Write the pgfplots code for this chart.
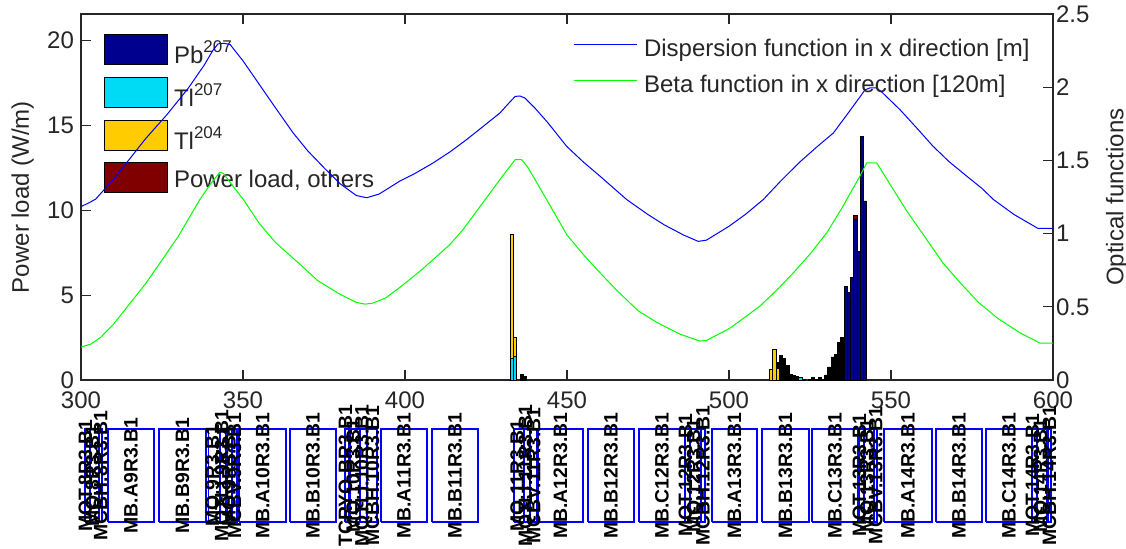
\documentclass[border=0pt]{standalone}
\usepackage{pgfplots}
\pgfplotsset{compat=1.18}
\usepackage{fontspec}
\setmainfont{Liberation Sans}
\definecolor{pbcol}{rgb}{0,0,0.56}
\definecolor{tlsevencol}{rgb}{0,0.86,0.96}
\definecolor{tlfourcol}{rgb}{1,0.8,0}
\definecolor{othcol}{rgb}{0.5,0,0}
\definecolor{mgreen}{rgb}{0,1,0}
\definecolor{mblue}{rgb}{0,0,1}
\newcommand{\sups}[1]{\raisebox{0.45em}{\fontsize{8.5}{9}\selectfont #1}}
\pgfplotsset{barst/.style={ybar, bar width=1, bar shift=0pt, draw=black, line width=0.4pt, forget plot}}
\begin{document}
\begin{tikzpicture}
\useasboundingbox (0,0) rectangle (563pt,274pt);
% ---------------- main axis (power load) ----------------
\begin{axis}[
  at={(40.5pt,84pt)}, anchor=south west,
  scale only axis, width=486pt, height=183pt,
  xmin=300, xmax=600, ymin=0, ymax=21.56,
  xtick={300,350,400,450,500,550,600}, ytick={0,5,10,15,20},
  tick align=inside, xtick pos=both, ytick pos=left,
  major tick length=5pt,
  axis line style={black!85, line width=0.6pt},
  tick style={black!85, line width=0.6pt},
  /pgf/number format/assume math mode=true,
  tick label style={font=\fontsize{12}{14}\selectfont, text=black!85},
  xticklabel style={yshift=-2.5pt},
  ylabel={Power load (W/m)},
  ylabel style={at={(axis description cs:-0.0412,0.5)}, anchor=south, font=\fontsize{12}{14}\selectfont, text=black!85},
  legend cell align=left,
  legend style={at={(0.0237,0.948)}, anchor=north west, draw=none, fill=none, inner sep=0pt, outer sep=0pt, row sep=5pt, column sep=3pt, nodes={inner sep=0pt}, font=\fontsize{12}{14}\selectfont, text=black!85},
  legend image code/.code={\draw[#1] (0pt,-7.5pt) rectangle (31.5pt,7.5pt);},
]
\addlegendimage{fill=pbcol, draw=black, line width=0.5pt}
\addlegendentry{\rule{0pt}{15pt}Pb\sups{207}}
\addlegendimage{fill=tlsevencol, draw=black, line width=0.5pt}
\addlegendentry{\rule{0pt}{15pt}Tl\sups{207}}
\addlegendimage{fill=tlfourcol, draw=black, line width=0.5pt}
\addlegendentry{\rule{0pt}{15pt}Tl\sups{204}}
\addlegendimage{fill=othcol, draw=black, line width=0.5pt}
\addlegendentry{\rule{0pt}{11.8pt}Power load, others}
% black (unlisted) contributions, cumulative tops
\addplot[barst, fill=black] coordinates {
(436,0.33) (437,0.2) (515,1.05) (516,1.47) (517,1.27) (518,0.84) (519,0.35)
(520,0.25) (521,0.2) (523,0.05) (525,0.05) (526,0.15) (527,0.05) (528,0.15)
(529,0.05) (530,0.3) (531,0.77) (532,1.36) (533,1.5) (534,2.22) (535,2.5)};
% others
\addplot[barst, fill=othcol] coordinates {(539,9.68)};
% Tl204 (cumulative tops)
\addplot[barst, fill=tlfourcol] coordinates {(433,8.6) (434,2.5) (513,0.65) (514,1.78) (515,0.7)};
% Tl207
\addplot[barst, fill=tlsevencol] coordinates {(433,1.27) (434,1.39) (522,0.15)};
% Pb207
\addplot[barst, fill=pbcol] coordinates {(536,5.5) (537,5.15) (538,6.03) (539,9.45) (540,7.58) (541,14.33) (542,10.55)};
\end{axis}
% ---------------- right axis (optical functions) ----------------
\begin{axis}[
  at={(40.5pt,84pt)}, anchor=south west,
  scale only axis, width=486pt, height=183pt,
  xmin=300, xmax=600, ymin=0, ymax=2.5,
  axis x line=none, axis y line*=right,
  ytick={0,0.5,1,1.5,2,2.5},
  tick align=inside, major tick length=5pt,
  axis line style={black!85, line width=0.6pt},
  tick style={black!85, line width=0.6pt},
  /pgf/number format/assume math mode=true,
  tick label style={font=\fontsize{12}{14}\selectfont, text=black!85},
  yticklabel style={xshift=-2pt},
  ylabel={Optical functions},
  ylabel style={at={(axis description cs:1.0473,0.5)}, anchor=north, font=\fontsize{12}{14}\selectfont, text=black!85},
  legend cell align=left,
  legend style={at={(0.5062,0.9617)}, anchor=north west, draw=none, fill=none, inner sep=0pt, outer sep=0pt, row sep=2pt, column sep=3.5pt, nodes={inner sep=0pt, text height=14pt, text depth=2pt}, font=\fontsize{12}{14}\selectfont, text=black!85},
  legend image code/.code={\draw[#1] (0pt,0pt) -- (31.5pt,0pt);},
]
\addplot[mblue, line width=0.5pt, mark=none] coordinates {
(300,1.185) (302,1.205) (304.5,1.235) (310,1.37) (315,1.51) (320,1.65) (326.5,1.812)
(333,1.99) (338,2.15) (340.8,2.255) (342.3,2.296) (344,2.30) (346,2.292) (350,2.18)
(355,2.02) (360,1.86) (365.4,1.69) (370,1.565) (375,1.45) (380,1.34) (385,1.26)
(388.2,1.245) (392,1.27) (398.5,1.36) (403,1.41) (408.7,1.483) (414,1.56) (419,1.642)
(424,1.73) (429.3,1.824) (432,1.89) (434,1.937) (435.5,1.94) (437,1.926) (440,1.86)
(444,1.76) (449.9,1.596) (455,1.49) (460.2,1.392) (468.4,1.233) (475,1.13) (480,1.06)
(486,0.99) (490.5,0.947) (493,0.955) (500,1.05) (505,1.13) (510.6,1.233) (516,1.36)
(521.9,1.49) (527,1.59) (532.2,1.687) (537,1.83) (542,1.982) (543.5,1.995) (545.5,1.995)
(547,1.97) (552.8,1.846) (558,1.72) (563,1.596) (568,1.49) (573.4,1.392) (578,1.31)
(581.6,1.233) (588,1.13) (595.4,1.035) (600,1.035)};
\addlegendentry{Dispersion function in x direction [m]}
\addplot[mgreen, line width=0.5pt, mark=none] coordinates {
(300,0.225) (303,0.245) (306,0.29) (310,0.38) (315,0.52) (320,0.66) (324.4,0.80)
(330,0.98) (336.7,1.233) (340,1.34) (342.9,1.42) (344,1.41) (346,1.35) (350.1,1.233)
(355,1.07) (360,0.94) (367.6,0.79) (373,0.68) (379.9,0.586) (385,0.53) (387.7,0.518)
(390,0.525) (394,0.56) (398.5,0.634) (405,0.75) (413.9,0.926) (418,1.03) (423,1.18)
(426,1.27) (430,1.39) (434,1.505) (436,1.505) (438,1.45) (443.7,1.233) (450,0.99)
(455,0.858) (459.2,0.756) (465,0.62) (472,0.472) (478,0.39) (484.9,0.313) (491,0.266)
(493,0.27) (500,0.35) (505,0.43) (509.6,0.506) (515,0.62) (519.9,0.733) (525,0.86)
(530.2,1.006) (535,1.18) (540.4,1.392) (542.5,1.483) (545.6,1.483) (550.7,1.301)
(555,1.15) (561,0.96) (566,0.8) (571.3,0.666) (577,0.53) (583,0.42) (590,0.32)
(596,0.252) (600,0.252)};
\addlegendentry{Beta function in x direction [120m]}
\end{axis}
% ---------------- lattice (magnet boxes) ----------------
\begin{axis}[
  at={(40.5pt,13pt)}, anchor=south west,
  scale only axis, width=486pt, height=46.5pt,
  xmin=300, xmax=600, ymin=0, ymax=1,
  hide axis, clip=false, unbounded coords=jump,
]
\addplot[mblue, line width=0.7pt, mark=none] coordinates {
(308.3,0) (322.5,0) (322.5,1) (308.3,1) (308.3,0) (nan,nan)
(324.1,0) (338.6,0) (338.6,1) (324.1,1) (324.1,0) (nan,nan)
(348.8,0) (363.3,0) (363.3,1) (348.8,1) (348.8,0) (nan,nan)
(364.5,0) (378.7,0) (378.7,1) (364.5,1) (364.5,0) (nan,nan)
(392.6,0) (406.8,0) (406.8,1) (392.6,1) (392.6,0) (nan,nan)
(408.3,0) (422.5,0) (422.5,1) (408.3,1) (408.3,0) (nan,nan)
(441.0,0) (454.9,0) (454.9,1) (441.0,1) (441.0,0) (nan,nan)
(456.5,0) (470.7,0) (470.7,1) (456.5,1) (456.5,0) (nan,nan)
(472.2,0) (486.4,0) (486.4,1) (472.2,1) (472.2,0) (nan,nan)
(494.8,0) (508.6,0) (508.6,1) (494.8,1) (494.8,0) (nan,nan)
(510.2,0) (524.7,0) (524.7,1) (510.2,1) (510.2,0) (nan,nan)
(525.6,0) (539.8,0) (539.8,1) (525.6,1) (525.6,0) (nan,nan)
(547.8,0) (562.7,0) (562.7,1) (547.8,1) (547.8,0) (nan,nan)
(563.9,0) (578.1,0) (578.1,1) (563.9,1) (563.9,0) (nan,nan)
(579.3,0) (593.5,0) (593.5,1) (579.3,1) (579.3,0) (nan,nan)
(301.2,0) (302.6,0) (302.6,1) (301.2,1) (301.2,0) (nan,nan)
(302.8,0) (305.4,0) (305.4,1) (302.8,1) (302.8,0) (nan,nan)
(305.6,0) (306.5,0) (306.5,1) (305.6,1) (305.6,0) (nan,nan)
(339.3,0) (342.9,0) (342.9,1) (339.3,1) (339.3,0) (nan,nan)
(343.1,0) (344.8,0) (344.8,1) (343.1,1) (343.1,0) (nan,nan)
(345.0,0) (346.4,0) (346.4,1) (345.0,1) (345.0,0) (nan,nan)
(346.6,0) (348.1,0) (348.1,1) (346.6,1) (346.6,0) (nan,nan)
(381.5,0) (382.5,0) (382.5,1) (381.5,1) (381.5,0) (nan,nan)
(383.0,0) (386.1,0) (386.1,1) (383.0,1) (383.0,0) (nan,nan)
(386.3,0) (388.3,0) (388.3,1) (386.3,1) (386.3,0) (nan,nan)
(388.5,0) (391.4,0) (391.4,1) (388.5,1) (388.5,0) (nan,nan)
(433.6,0) (436.7,0) (436.7,1) (433.6,1) (433.6,0) (nan,nan)
(436.9,0) (438.6,0) (438.6,1) (436.9,1) (436.9,0) (nan,nan)
(438.8,0) (440.7,0) (440.7,1) (438.8,1) (438.8,0) (nan,nan)
(486.4,0) (487.9,0) (487.9,1) (486.4,1) (486.4,0) (nan,nan)
(488.1,0) (491.2,0) (491.2,1) (488.1,1) (488.1,0) (nan,nan)
(491.4,0) (492.6,0) (492.6,1) (491.4,1) (491.4,0) (nan,nan)
(540.1,0) (541.5,0) (541.5,1) (540.1,1) (540.1,0) (nan,nan)
(541.7,0) (544.6,0) (544.6,1) (541.7,1) (541.7,0) (nan,nan)
(544.8,0) (545.7,0) (545.7,1) (544.8,1) (544.8,0) (nan,nan)
(593.5,0) (594.9,0) (594.9,1) (593.5,1) (593.5,0) (nan,nan)
(595.1,0) (598.2,0) (598.2,1) (595.1,1) (595.1,0) (nan,nan)
(598.4,0) (599.4,0) (599.4,1) (598.4,1) (598.4,0)};
\tikzset{mlab/.style={rotate=90, inner sep=0pt, font=\bfseries\fontsize{9.7}{10}\selectfont, text=black}}
\node[mlab] at (axis cs:315.4,0.5) {MB.A9R3.B1};
\node[mlab] at (axis cs:331.35,0.5) {MB.B9R3.B1};
\node[mlab] at (axis cs:356.05,0.5) {MB.A10R3.B1};
\node[mlab] at (axis cs:371.6,0.5) {MB.B10R3.B1};
\node[mlab] at (axis cs:399.7,0.5) {MB.A11R3.B1};
\node[mlab] at (axis cs:415.4,0.5) {MB.B11R3.B1};
\node[mlab] at (axis cs:447.95,0.5) {MB.A12R3.B1};
\node[mlab] at (axis cs:463.6,0.5) {MB.B12R3.B1};
\node[mlab] at (axis cs:479.3,0.5) {MB.C12R3.B1};
\node[mlab] at (axis cs:501.7,0.5) {MB.A13R3.B1};
\node[mlab] at (axis cs:517.45,0.5) {MB.B13R3.B1};
\node[mlab] at (axis cs:532.7,0.5) {MB.C13R3.B1};
\node[mlab] at (axis cs:555.25,0.5) {MB.A14R3.B1};
\node[mlab] at (axis cs:571.0,0.5) {MB.B14R3.B1};
\node[mlab] at (axis cs:586.4,0.5) {MB.C14R3.B1};
\node[mlab] at (axis cs:301.9,0.5) {MQT.8R3.B1};
\node[mlab] at (axis cs:304.1,0.5) {MQ.8R3.B1};
\node[mlab] at (axis cs:306.05,0.5) {MCBH.8R3.B1};
\node[mlab] at (axis cs:341.1,0.5) {MQ.9R3.B1};
\node[mlab] at (axis cs:343.95,0.5) {MQTLI.9R3.B1};
\node[mlab] at (axis cs:345.7,0.5) {MO.9R3.B1};
\node[mlab] at (axis cs:347.35,0.5) {MCBV.9R3.B1};
\node[mlab] at (axis cs:381.6,0.5) {TCRYO.BR3.B1};
\node[mlab] at (axis cs:384.55,0.5) {MQ.10R3.B1};
\node[mlab] at (axis cs:387.3,0.5) {MQTLI.10R3.B1};
\node[mlab] at (axis cs:389.95,0.5) {MCBH.10R3.B1};
\node[mlab] at (axis cs:435.15,0.5) {MQ.11R3.B1};
\node[mlab] at (axis cs:437.75,0.5) {MQTLI.11R3.B1};
\node[mlab] at (axis cs:439.75,0.5) {MCBV.11R3.B1};
\node[mlab] at (axis cs:487.15,0.5) {MQT.12R3.B1};
\node[mlab] at (axis cs:489.65,0.5) {MQ.12R3.B1};
\node[mlab] at (axis cs:492.0,0.5) {MCBH.12R3.B1};
\node[mlab] at (axis cs:540.8,0.5) {MQT.13R3.B1};
\node[mlab] at (axis cs:543.15,0.5) {MQ.13R3.B1};
\node[mlab] at (axis cs:545.25,0.5) {MCBV.13R3.B1};
\node[mlab] at (axis cs:594.2,0.5) {MQT.14R3.B1};
\node[mlab] at (axis cs:596.65,0.5) {MQ.14R3.B1};
\node[mlab] at (axis cs:598.9,0.5) {MCBH.14R3.B1};
\end{axis}
\end{tikzpicture}
\end{document}
